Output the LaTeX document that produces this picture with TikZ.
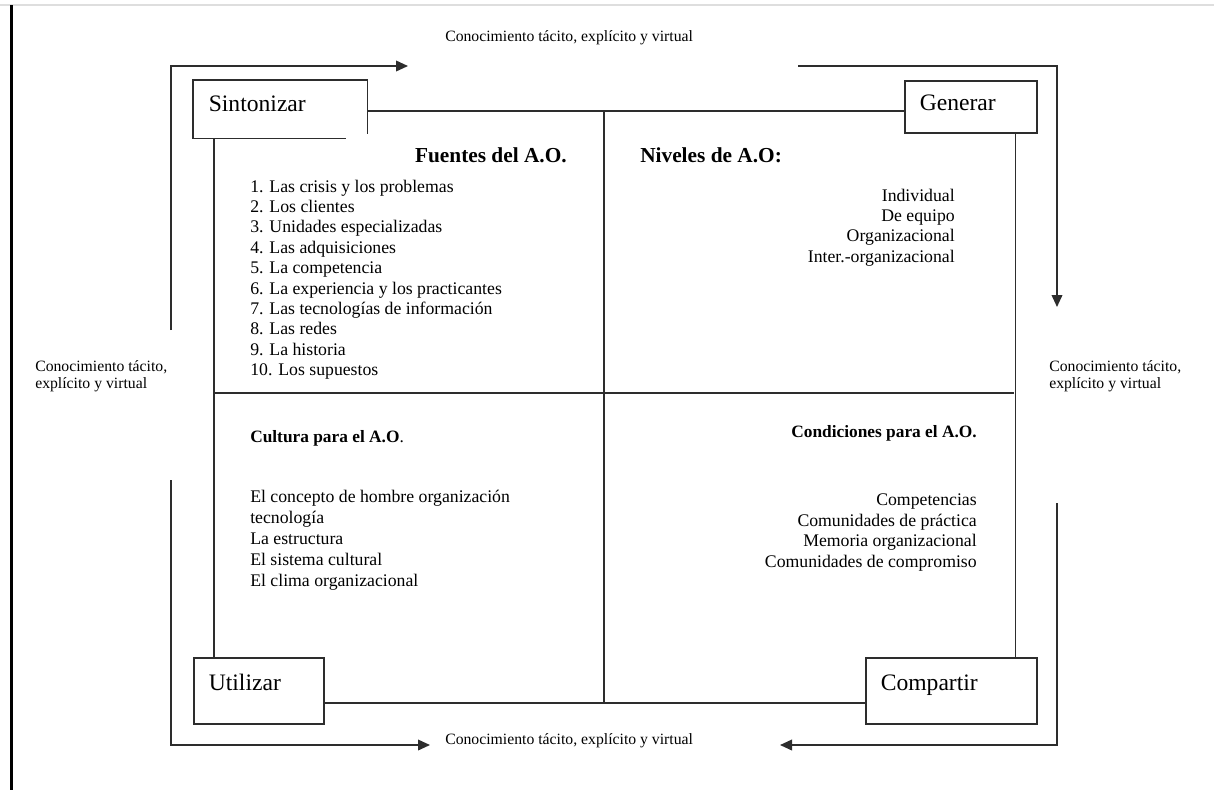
\documentclass[tikz,border=0pt]{standalone}
\usepackage{fontspec}
\setmainfont{Liberation Serif}
\usetikzlibrary{arrows.meta,positioning,calc}
\definecolor{linegray}{RGB}{45,45,45}
\definecolor{rulegray}{RGB}{222,222,222}

\begin{document}
\begin{tikzpicture}[x=0.75pt, y=-0.75pt,
        stagebox/.style={rectangle, draw=linegray, line width=1.2pt, anchor=north west, align=left,
            inner xsep=11.25pt, inner ysep=0pt, text height=13pt, text depth=13pt,
            font=\fontsize{17.7}{20}\selectfont},
        heading/.style={inner sep=0pt, font=\fontsize{16}{19}\selectfont\bfseries},
        subheading/.style={inner sep=0pt, font=\fontsize{13}{16}\selectfont},
        itemlist/.style={inner sep=0pt, font=\fontsize{13.3}{15.3}\selectfont},
        flowlabel/.style={inner sep=0pt, align=left, font=\fontsize{11.8}{12.75}\selectfont},
        line/.style={draw=linegray, line width=1.2pt},
        arrow/.style={-{Triangle[length=9pt,width=8pt]}, line width=1.2pt, draw=linegray}
    ]
    \useasboundingbox (0,0) rectangle (1214,790);
    % page rules
    \draw[rulegray, line width=1.2pt] (0,5) -- (1214,5);
    \draw[black, line width=2.4pt] (11.5,5) -- (11.5,790);

    % the four stages
    \node[stagebox, draw=none, text width=107.25pt, minimum height=42.75pt, text height=15pt, text depth=11pt] (sint) at (193,80) {Sintonizar};
    \node[stagebox, text width=76.5pt, minimum height=39pt, text height=16pt, text depth=10pt] (gen) at (904,80) {Generar};
    \node[stagebox, text width=75pt, minimum height=49.5pt] (util) at (193,657) {Utilizar};
    \node[stagebox, text width=105.75pt, minimum height=49.5pt] (comp) at (865,657) {Compartir};
    \draw[line] ($(sint.south east)+(-22,0)$) -- (sint.south west) -- (sint.north west) -- (sint.north east) -- ($(sint.south east)+(0,-5)$);

    % quadrants
    \coordinate (qn) at (604,111);
    \coordinate (qs) at (604,703);
    \coordinate (qw) at (214,393);
    \coordinate (qe) at (1014,393);
    \draw[line] (sint.east |- qn) -- (gen.west |- qn);
    \draw[line] (util.east |- qs) -- (comp.west |- qs);
    \draw[line] ($(sint.south west)+(21,0)$) -- ($(util.north west)+(21,0)$);
    \draw[line] ($(gen.south east)+(-22,0)$) -- ($(comp.north east)+(-22,0)$);
    \draw[line] (qn) -- (qs);
    \draw[line] (qw) -- (qe);

    % Fuentes
    \node[heading, anchor=east] (fuentes) at (567,155) {Fuentes del A.O.};
    \node[itemlist, anchor=north west, align=left] (fuenteslist) at (250,179.5) {1. Las crisis y los problemas\\2. Los clientes\\3. Unidades especializadas\\4. Las adquisiciones\\5. La competencia\\6. La experiencia y los practicantes\\7. Las tecnologías de información\\8. Las redes\\9. La historia\\10. Los supuestos};

    % Niveles
    \node[heading, anchor=west] (niveles) at (640,155) {Niveles de A.O:};
    \node[itemlist, anchor=north east, align=right] (niveleslist) at (955,188.5) {Individual\\De equipo\\Organizacional\\Inter.-organizacional};

    % Cultura
    \node[subheading, anchor=west] (cultura) at (250,438) {\textbf{Cultura para el A.O}.};
    \node[itemlist, anchor=north west, align=left, font=\fontsize{13.3}{15.75}\selectfont] (culturalist) at (250,489.5) {El concepto de hombre organización\\tecnología\\La estructura\\El sistema cultural\\El clima organizacional};

    % Condiciones
    \node[subheading, anchor=east] (condiciones) at (977,433) {\textbf{Condiciones para el A.O.}};
    \node[itemlist, anchor=north east, align=right, font=\fontsize{13.3}{15.4}\selectfont] (condicioneslist) at (977,493.5) {Competencias\\Comunidades de práctica\\Memoria organizacional\\Comunidades de compromiso};

    % knowledge flow
    \node[flowlabel, anchor=west] (flowtop) at (445,38) {Conocimiento tácito, explícito y virtual};
    \node[flowlabel, anchor=west] (flowbottom) at (445,741) {Conocimiento tácito, explícito y virtual};
    \node[flowlabel, anchor=west] (flowleft) at (35,376) {Conocimiento tácito,\\explícito y virtual};
    \node[flowlabel, anchor=west] (flowright) at (1049,376) {Conocimiento tácito,\\explícito y virtual};

    \coordinate (ltop) at (171,330);
    \coordinate (ttip) at (408,66);
    \coordinate (rtop) at (798,66);
    \coordinate (rtip) at (1057,307);
    \coordinate (rbot) at (1057,503);
    \coordinate (btip) at (780,745);
    \coordinate (lbot) at (171,480);
    \coordinate (ltip) at (430,745);
    \draw[arrow] (ltop) |- (ttip);
    \draw[arrow] (rtop) -| (rtip);
    \draw[arrow] (rbot) |- (btip);
    \draw[arrow] (lbot) |- (ltip);
\end{tikzpicture}
\end{document}
